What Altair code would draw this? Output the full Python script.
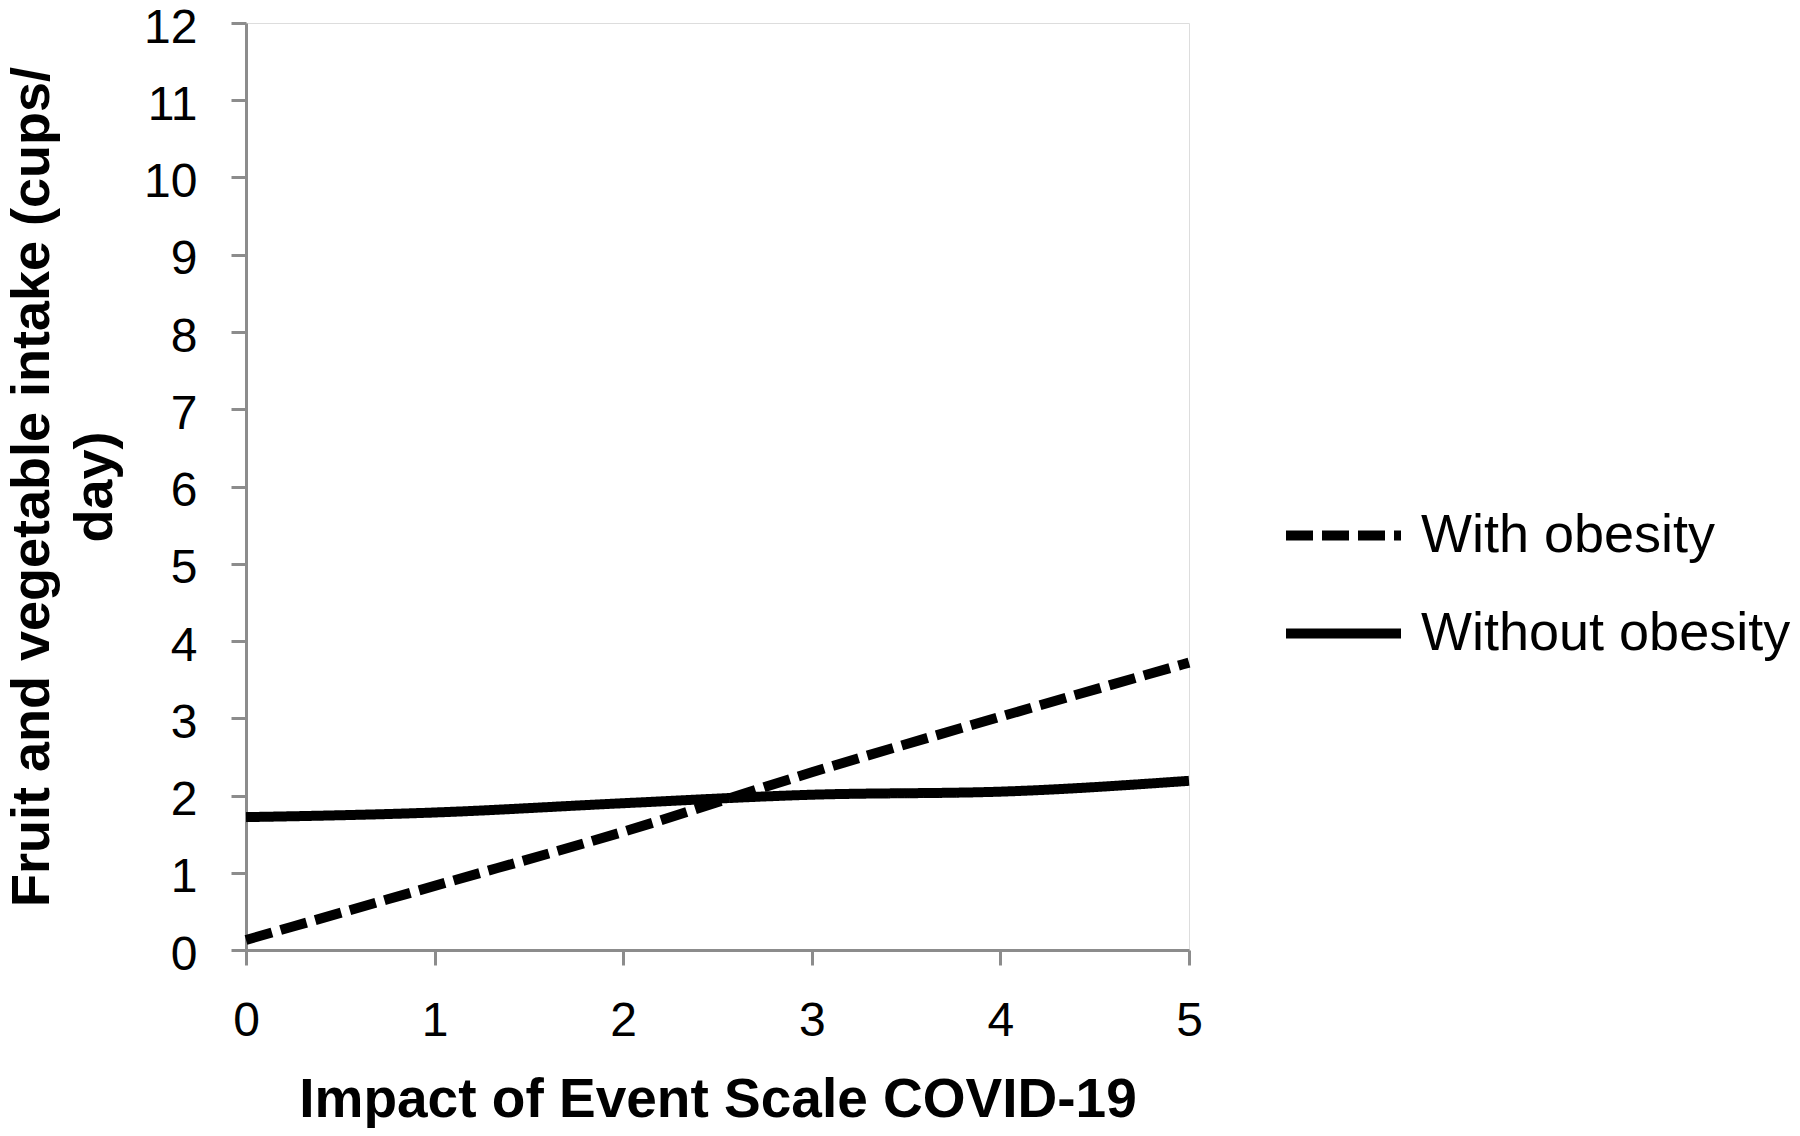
import altair as alt
import pandas as pd

x_values = [0, 1, 2, 3, 4, 5]
with_obesity = [0.13, 0.83, 1.53, 2.30, 3.02, 3.72]
without_obesity = [1.72, 1.78, 1.90, 2.01, 2.05, 2.19]
series_names = ["With obesity", "Without obesity"]
y_ticks = list(range(0, 13))
x_ticks = [0, 1, 2, 3, 4, 5]

rows = []
for xv, a, b in zip(x_values, with_obesity, without_obesity):
    rows.append({"x": xv, "y": a, "group": series_names[0]})
    rows.append({"x": xv, "y": b, "group": series_names[1]})
df = pd.DataFrame(rows)

FONT = "Liberation Sans"
AXIS_COLOR = "#8c8c8c"

chart = alt.Chart(df).mark_line(
    color="black", strokeWidth=10, strokeCap="butt", interpolate="monotone"
).encode(
    x=alt.X(
        "x:Q",
        scale=alt.Scale(domain=[0, 5], nice=False, zero=False),
        axis=alt.Axis(
            values=x_ticks,
            title="Impact of Event Scale COVID-19",
            titleFontSize=55,
            titleFont=FONT,
            titleFontWeight="bold",
            titleColor="black",
            titleBaseline="alphabetic",
            titleY=166,
            labelFontSize=48,
            labelFont=FONT,
            labelColor="black",
            labelPadding=32,
            labelBaseline="top",
            tickSize=15,
            tickWidth=3,
            tickColor=AXIS_COLOR,
            domainColor=AXIS_COLOR,
            domainWidth=3,
            grid=False,
            format="d",
            labelFlush=False,
        ),
    ),
    y=alt.Y(
        "y:Q",
        scale=alt.Scale(domain=[0, 12], nice=False),
        axis=alt.Axis(
            values=y_ticks,
            title=["Fruit and vegetable intake (cups/", "day)"],
            titleFontSize=54,
            titleFont=FONT,
            titleFontWeight="bold",
            titleColor="black",
            titleLineHeight=63,
            titleAngle=270,
            titleBaseline="alphabetic",
            titleAlign="center",
            titleX=-198,
            labelFontSize=48,
            labelFont=FONT,
            labelColor="black",
            labelPadding=34,
            labelBaseline="middle",
            labelOffset=5,
            tickSize=15,
            tickWidth=3,
            tickColor=AXIS_COLOR,
            domainColor=AXIS_COLOR,
            domainWidth=3,
            grid=False,
            format="d",
            labelFlush=False,
        ),
    ),
    strokeDash=alt.StrokeDash(
        "group:N",
        scale=alt.Scale(domain=series_names, range=[[27, 9], [1, 0]]),
        legend=alt.Legend(
            title=None,
            orient="none",
            legendX=1035,
            legendY=450,
            symbolType="stroke",
            symbolSize=13225,
            symbolStrokeWidth=10,
            symbolStrokeColor="black",
            labelFontSize=54,
            labelFont=FONT,
            labelColor="black",
            labelOffset=15,
            rowPadding=8,
            labelLimit=700,
        ),
    ),
).properties(
    width=943,
    height=927,
    autosize=alt.AutoSizeParams(type="none"),
    padding={"left": 238, "top": 15, "right": 603, "bottom": 178},
).configure_view(stroke=None).configure(background="white")

chart.save("out.html", embed_options={"renderer": "svg", "actions": False})
